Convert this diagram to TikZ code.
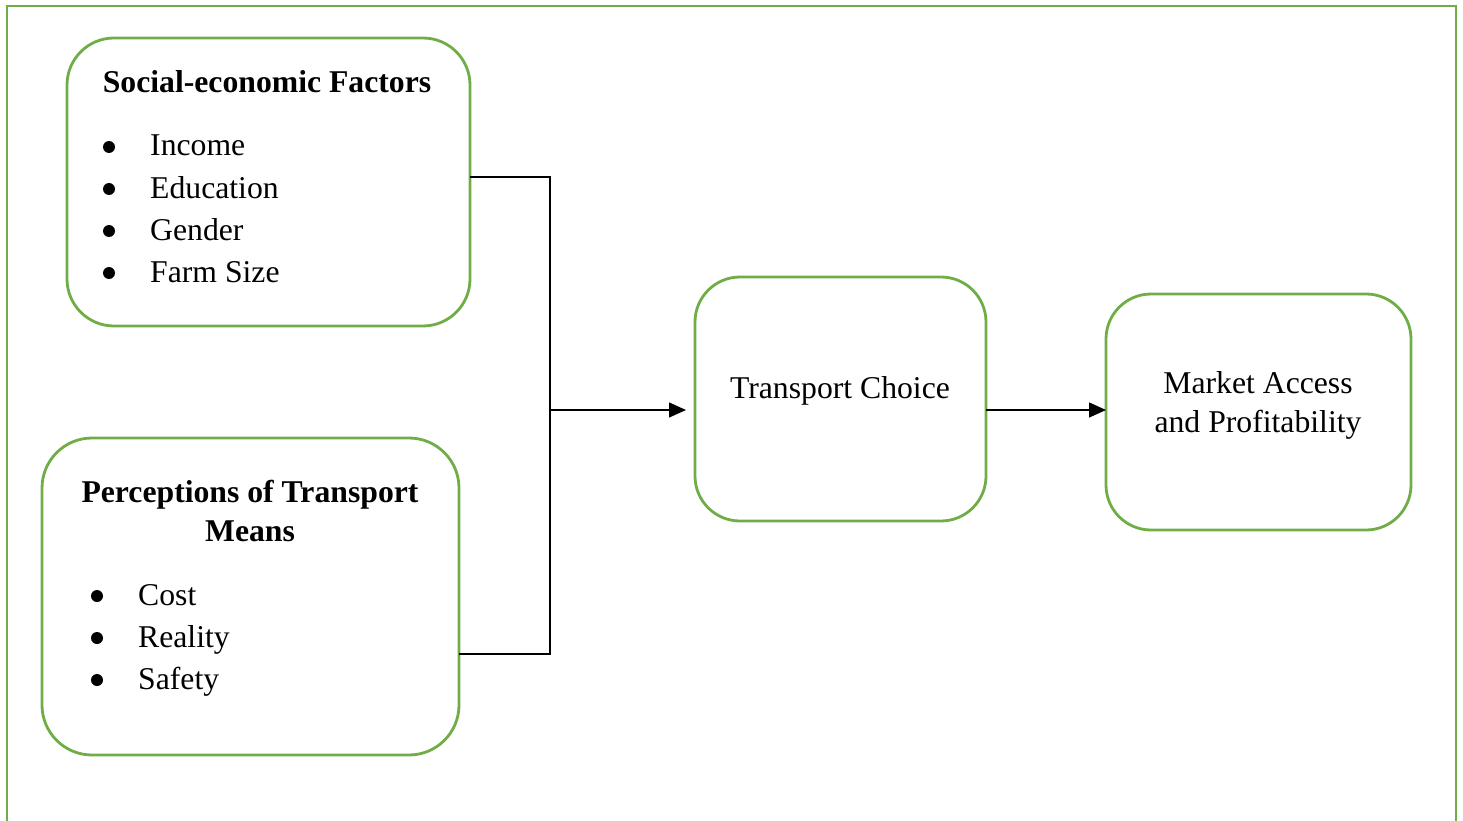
\documentclass[tikz,border=0pt]{standalone}
\usepackage{fontspec}
\setmainfont{Liberation Serif}
\usetikzlibrary{arrows.meta}
\definecolor{boxgreen}{HTML}{70AD47}
\tikzset{
  box/.style={draw=boxgreen, line width=2.8pt},
  txt/.style={inner sep=0pt, anchor=base, font=\fontsize{31.7}{42}\selectfont},
  ltxt/.style={inner sep=0pt, anchor=base west, font=\fontsize{31.7}{42}\selectfont},
  btxt/.style={inner sep=0pt, anchor=base, font=\fontsize{31.7}{42}\selectfont\bfseries},
  dot/.style={circle, fill=black, inner sep=0pt, minimum size=12pt},
  conn/.style={draw=black, line width=1.3pt},
  arr/.style={conn, -{Triangle[length=17pt, width=15pt]}}
}
\begin{document}
\begin{tikzpicture}[x=1pt, y=-1pt]
\useasboundingbox (0,0) rectangle (1463,821);
% outer frame
\draw[boxgreen, line width=2.8pt] (7,830) -- (7,6) -- (1456,6) -- (1456,830);

% boxes
\draw[box, rounded corners=47pt] (67,38) rectangle (470,326);
\draw[box, rounded corners=50pt] (42,438) rectangle (459,755);
\draw[box, rounded corners=45pt] (695,277) rectangle (986,521);
\draw[box, rounded corners=45pt] (1106,294) rectangle (1411,530);

\coordinate (soc) at (470,177);
\coordinate (per) at (459,654);
\coordinate (tcin) at (686,410);
\coordinate (tcout) at (986,410);
\coordinate (mkin) at (1106,410);
\coordinate (j1) at (550,177);
\coordinate (j2) at (550,654);
\coordinate (jm) at (550,410);

% texts box 1
\node[btxt] (h1) at (267,93) {Social-economic Factors};
\node[dot] (b11) at (109,147) {};
\node[dot] (b12) at (109,189) {};
\node[dot] (b13) at (109,231) {};
\node[dot] (b14) at (109,273) {};
\node[ltxt] (t11) at (150,156) {Income};
\node[ltxt] (t12) at (150,198) {Education};
\node[ltxt] (t13) at (150,240) {Gender};
\node[ltxt] (t14) at (150,282) {Farm Size};

% texts box 2
\node[btxt] (h2a) at (250,502) {Perceptions of Transport};
\node[btxt] (h2b) at (250,541) {Means};
\node[dot] (b21) at (97,596) {};
\node[dot] (b22) at (97,638) {};
\node[dot] (b23) at (97,680) {};
\node[ltxt] (t21) at (138,605) {Cost};
\node[ltxt] (t22) at (138,647) {Reality};
\node[ltxt] (t23) at (138,689) {Safety};

% box 3 and 4 texts
\node[txt] (tc) at (840,398) {Transport Choice};
\node[txt] (m1) at (1258,393) {Market Access};
\node[txt] (m2) at (1258,432) {and Profitability};

% connectors
\draw[conn] (soc) -- (j1) -- (j2) -- (per);
\draw[arr] (jm) -- (tcin);
\draw[arr] (tcout) -- (mkin);
\end{tikzpicture}
\end{document}
